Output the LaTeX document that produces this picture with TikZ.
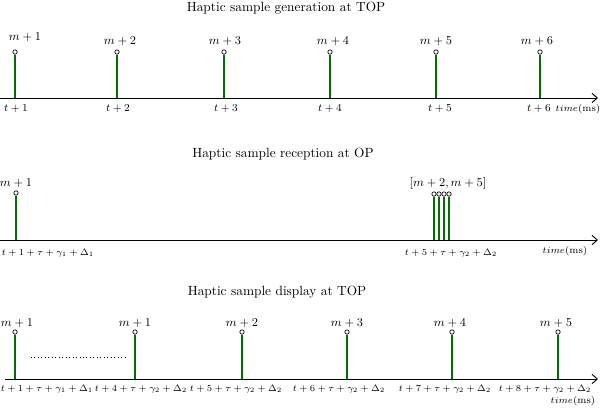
\documentclass[tikz,border=0pt]{standalone}
\usetikzlibrary{arrows.meta}
\definecolor{stemgreen}{RGB}{0,110,0}
\begin{document}
\begin{tikzpicture}[x=0.75pt,y=-0.75pt,
  axis/.style={line width=0.7pt, -{Straight Barb[length=4pt,width=7pt]}},
  stem/.style={line width=1.5pt, draw=stemgreen},
  tip/.style={circle, draw=black, fill=white, inner sep=0pt, minimum size=3.3pt, line width=0.5pt},
  ttl/.style={font=\normalsize, inner sep=0pt},
  mlab/.style={font=\small, inner sep=0pt},
  tlab/.style={font=\footnotesize, inner sep=0pt},
  llab/.style={font=\fontsize{6.6}{8}\selectfont, inner sep=0pt},
  timelab/.style={font=\fontsize{7.3}{9}\selectfont, inner sep=0pt},
  dots/.style={dotted, line width=0.6pt}
]
\useasboundingbox (0,0) rectangle (600,408);
% ---------- panel 1 ----------
\node[ttl] (t1) at (286,8) {Haptic sample generation at TOP};
\coordinate (a1s) at (0,98);
\coordinate (a1e) at (598,98);
\draw[axis] (a1s) -- (a1e);
\foreach \i/\x/\ml/\mx/\my/\tx in {1/15/1/25/37/16, 2/117/2/120/41/118, 3/224/3/225/41/226, 4/330/4/333/41/330, 5/436/5/436/41/440, 6/540/6/537/41/539} {
  \coordinate (g\i b) at (\x,98);
  \node[tip] (g\i) at (\x,52) {};
  \draw[stem] (g\i b) -- (g\i.south);
  \node[mlab] (gm\i) at (\mx,\my) {$m+\ml$};
  \node[tlab] (gt\i) at (\tx,109) {$t+\ml$};
}
\node[timelab] (gtime) at (578,109) {$time$(ms)};
% ---------- panel 2 ----------
\node[ttl] (t2) at (283,154) {Haptic sample reception at OP};
\coordinate (a2s) at (0,240);
\coordinate (a2e) at (598,240);
\draw[axis] (a2s) -- (a2e);
\coordinate (r1b) at (16,240);
\node[tip] (r1) at (16,193) {};
\draw[stem] (r1b) -- (r1.south);
\foreach \i/\x in {2/434,3/439,4/444,5/449} {
  \coordinate (r\i b) at (\x,240);
  \node[tip] (r\i) at (\x,194) {};
  \draw[stem] (r\i b) -- (r\i.south);
}
\node[mlab] (rm1) at (16,183) {$m+1$};
\node[mlab] (rm2) at (448,183) {$[m+2,m+5]$};
\node[llab] (rt1) at (48,253) {$t+1+\tau+\gamma_1+\Delta_1$};
\node[llab] (rt2) at (451,253) {$t+5+\tau+\gamma_2+\Delta_2$};
\node[timelab] (rtime) at (565,251) {$time$(ms)};
% ---------- panel 3 ----------
\node[ttl] (t3) at (277,292) {Haptic sample display at TOP};
\coordinate (a3s) at (5,379);
\coordinate (a3e) at (598,379);
\draw[axis] (a3s) -- (a3e);
\foreach \i/\x/\mx/\ml in {1/15/17/1, 2/135/135/1, 3/242/242/2, 4/347/347/3, 5/452/450/4, 6/558/556/5} {
  \coordinate (d\i b) at (\x,379);
  \node[tip] (d\i) at (\x,332) {};
  \draw[stem] (d\i b) -- (d\i.south);
  \node[mlab] (dm\i) at (\mx,323) {$m+\ml$};
}
\node[llab] (dt1) at (47,389) {$t+1+\tau+\gamma_1+\Delta_1$};
\node[llab] (dt2) at (141,389) {$t+4+\tau+\gamma_2+\Delta_2$};
\node[llab] (dt3) at (236,389) {$t+5+\tau+\gamma_2+\Delta_2$};
\node[llab] (dt4) at (339,389) {$t+6+\tau+\gamma_2+\Delta_2$};
\node[llab] (dt5) at (445,389) {$t+7+\tau+\gamma_2+\Delta_2$};
\node[llab] (dt6) at (545,389) {$t+8+\tau+\gamma_2+\Delta_2$};
\node[timelab] (dtime) at (573,401) {$time$(ms)};
\coordinate (dl1) at (31,357);
\coordinate (dl2) at (128,357);
\draw[dots] (dl1) -- (dl2);
\end{tikzpicture}
\end{document}
